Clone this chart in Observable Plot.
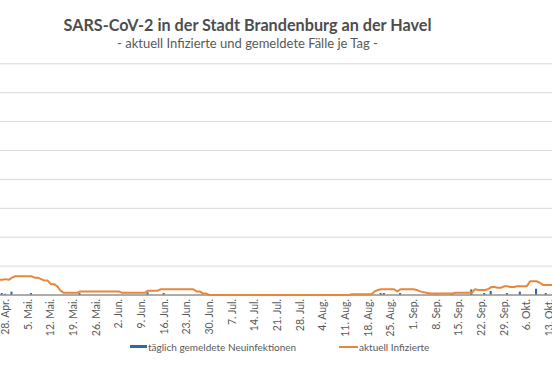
<!DOCTYPE html>
<html><head><meta charset="utf-8">
<script src="https://cdn.jsdelivr.net/npm/d3@7"></script>
<script src="https://cdn.jsdelivr.net/npm/@observablehq/plot@0.6"></script>
<style>
body{margin:0;background:#fff;font-family:Lato,"Noto Sans",sans-serif;}
#wrap{position:relative;width:552px;height:368px;overflow:hidden;background:#fff;}
#title{position:absolute;left:0;width:495px;top:15px;text-align:center;font-weight:bold;font-size:16.2px;line-height:20px;color:#4d4d4d;white-space:nowrap;}
#subtitle{position:absolute;left:0;width:495px;top:36px;text-align:center;font-size:13px;line-height:15px;color:#595959;white-space:nowrap;}
#chart{position:absolute;left:0;top:50px;}
#legend{position:absolute;left:0;top:340px;width:552px;height:16px;font-size:10px;color:#595959;}
.lg{position:absolute;top:0;line-height:14px;white-space:nowrap;}
</style>
</head><body>
<div id="wrap">
  <div id="title">SARS-CoV-2 in der Stadt Brandenburg an der Havel</div>
  <div id="subtitle">- aktuell Infizierte und gemeldete Fälle je Tag -</div>
  <div id="chart"></div>
  <div id="legend">
    <span class="lg" style="left:130px;top:5px;width:17px;height:3px;background:#2e6aa8;"></span>
    <span class="lg" style="left:148px;">täglich gemeldete Neuinfektionen</span>
    <span class="lg" style="left:339px;top:6px;width:19px;height:2px;background:#e8873a;"></span>
    <span class="lg" style="left:359px;">aktuell Infizierte</span>
  </div>
</div>
<script>
// Series: "aktuell Infizierte", daily from 2020-04-26 to 2020-10-14
const firstDay = "2020-04-26";
const infected = [
  21,21,22,21,24,
  26,26,26,26,26,26,24,24,22,20,20,15,15,12,6,3,3,3,3,3,5,5,5,5,5,5,5,5,5,5,5,
  5,5,3,3,3,3,3,3,3,3,6,6,6,6,8,8,8,8,8,8,8,8,8,8,8,5,5,2,2,0,
  0,0,0,0,0,0,0,0,0,0,0,0,0,0,0,0,0,0,0,0,0,0,0,0,0,0,0,0,0,0,0,
  0,0,0,0,0,0,0,0,0,0,0,0,1,1,1,1,1,1,1,5,7,8,8,8,8,8,5,8,8,8,8,
  8,7,5,4,3,2,2,2,2,2,2,2,2,3,3,3,3,3,3,8,7,7,7,8,11,11,10,10,12,12,
  11,11,12,12,12,12,19,19,19,17,14,14,14,14
];
// Series: "täglich gemeldete Neuinfektionen" (days with reported cases)
const newCaseDates = ["2020-04-27","2020-04-28","2020-04-30","2020-05-06","2020-05-21","2020-06-11","2020-06-16","2020-08-22","2020-08-23","2020-08-28","2020-09-08","2020-09-13","2020-09-19","2020-09-23","2020-09-25","2020-09-30","2020-10-04","2020-10-09","2020-10-12"];
const newCases = [2,1,4,2,2,3,2,2,2,2,2,2,7,2,5,2,4,8,2];
// Axis
const tickDates = ["2020-04-28","2020-05-05","2020-05-12","2020-05-19","2020-05-26","2020-06-02","2020-06-09","2020-06-16","2020-06-23","2020-06-30","2020-07-07","2020-07-14","2020-07-21","2020-07-28","2020-08-04","2020-08-11","2020-08-18","2020-08-25","2020-09-01","2020-09-08","2020-09-15","2020-09-22","2020-09-29","2020-10-06","2020-10-13"];
const tickLabels = ["28. Apr.","5. Mai.","12. Mai.","19. Mai.","26. Mai.","2. Jun.","9. Jun.","16. Jun.","23. Jun.","30. Jun.","7. Jul.","14. Jul.","21. Jul.","28. Jul.","4. Aug.","11. Aug.","18. Aug.","25. Aug.","1. Sep.","8. Sep.","15. Sep.","22. Sep.","29. Sep.","6. Okt.","13. Okt."];
const yGrid = [40,80,120,160,200,240,280,320];

const day0 = new Date(firstDay + "T00:00:00Z");
const days = d3.utcDay.range(day0, d3.utcDay.offset(day0, infected.length));
const lineData = days.map((d, i) => ({date: d, value: infected[i]}));
const barData = newCaseDates.map((s, i) => ({date: new Date(s + "T00:00:00Z"), value: newCases[i]}));
const ticks = tickDates.map(s => new Date(s + "T00:00:00Z"));
const labelOf = new Map(ticks.map((d, i) => [+d, tickLabels[i]]));

const DAY = 864e5;
const ref = ticks[0].getTime();
const xDomain = [new Date(ref - 1.544 * DAY), new Date(ref + 168.93 * DAY)];

const chart = Plot.plot({
  width: 552,
  height: 290,
  marginLeft: 0,
  marginRight: 0,
  marginTop: 13.3,
  marginBottom: 45.5,
  style: {fontFamily: "Lato, sans-serif", background: "transparent", overflow: "visible"},
  x: {type: "utc", domain: xDomain, axis: null},
  y: {domain: [0, 320], axis: null},
  marks: [
    Plot.ruleY(yGrid, {stroke: "#d9d9d9", strokeWidth: 1}),
    Plot.rectY(barData, {x1: d => new Date(+d.date - 0.32 * DAY), x2: d => new Date(+d.date + 0.32 * DAY), y: "value", fill: "#2e6aa8"}),
    Plot.ruleY([0], {stroke: "#5a5a5a", strokeWidth: 1}),
    Plot.line(lineData, {x: "date", y: "value", stroke: "#e8873a", strokeWidth: 2}),
    Plot.axisX(ticks, {tickFormat: d => labelOf.get(+d), tickRotate: -90, tickSize: 0, tickPadding: 4, fontSize: 10.5, fill: "#595959"})
  ]
});
document.getElementById("chart").appendChild(chart);
</script>
</body></html>
